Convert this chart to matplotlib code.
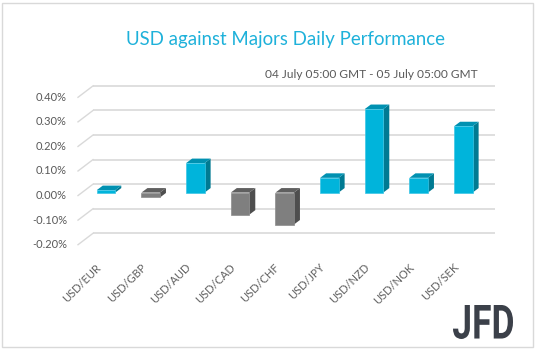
import matplotlib
matplotlib.use("Agg")
import matplotlib.pyplot as plt
from matplotlib.patches import Polygon, Rectangle, PathPatch
from matplotlib.textpath import TextPath
from matplotlib.font_manager import FontProperties
from matplotlib.transforms import Affine2D

categories = ["USD/EUR", "USD/GBP", "USD/AUD", "USD/CAD", "USD/CHF",
              "USD/JPY", "USD/NZD", "USD/NOK", "USD/SEK"]
values = [0.01, -0.02, 0.12, -0.09, -0.13, 0.06, 0.34, 0.06, 0.27]
yticks = [-0.20, -0.10, 0.00, 0.10, 0.20, 0.30, 0.40]
title = "USD against Majors Daily Performance"
subtitle = "04 July 05:00 GMT - 05 July 05:00 GMT"

plt.rcParams['font.family'] = ['Lato', 'DejaVu Sans']

W, H = 538, 351
fig = plt.figure(figsize=(W / 100, H / 100), dpi=100)
fig.patch.set_facecolor('white')

# front plane of the 3-D box in pixels
x0, x1 = 78, 480
ytop_px, ybot_px = 97.3, 244.7
ax = fig.add_axes([x0 / W, (H - ybot_px) / H, (x1 - x0) / W, (ybot_px - ytop_px) / H])
n = len(categories)
ax.set_xlim(-0.5, n - 0.5)
ax.set_ylim(yticks[0], yticks[-1])
ax.axis('off')

ppx = n / (x1 - x0)
ppy = (yticks[-1] - yticks[0]) / (ybot_px - ytop_px)

grid_c = '#D9D9D9'
bx, by = 15 * ppx, 11.4 * ppy
for v in yticks:
    ax.plot([-0.5 + bx, n - 0.5 + bx], [v + by, v + by], color=grid_c, lw=1.2,
            clip_on=False, zorder=1, solid_capstyle='butt')
    ax.plot([-0.5, -0.5 + bx], [v, v + by], color=grid_c, lw=1.0,
            clip_on=False, zorder=1)
    ax.text(-0.5 - 11 * ppx, v, f"{v:.2f}%", ha='right', va='center',
            fontsize=8, color='#595959')

# bars
off_x, off_y = 5.7 * ppx, 3.0 * ppy
bw = 18.5 * ppx
ddx, ddy = 6 * ppx, 4.5 * ppy
xs = [i + off_x for i in range(n)]
pos = dict(front='#00B4DB', top='#0091B1', side='#007A92', edge='#3CC6E6')
neg = dict(front='#7F7F7F', top='#5F5F5F', side='#4E4E4E', edge='#8C8C8C')
cols = [pos if v >= 0 else neg for v in values]
bars = ax.bar(xs, values, width=bw, bottom=off_y,
              color=[c['front'] for c in cols],
              edgecolor=[c['edge'] for c in cols], linewidth=0.5, zorder=3)
for b, v, c in zip(bars, values, cols):
    l = b.get_x()
    r = l + b.get_width()
    b0 = b.get_y()
    b1 = b0 + b.get_height()
    side = Polygon([(r, b0), (r, b1), (r + ddx, b1 + ddy), (r + ddx, b0 + ddy)],
                   closed=True, facecolor=c['side'], edgecolor='none', zorder=2)
    yt = max(b0, b1)
    top = Polygon([(l, yt), (r, yt), (r + ddx, yt + ddy), (l + ddx, yt + ddy)],
                  closed=True, facecolor=c['top'], edgecolor='none', zorder=2)
    for p in (side, top):
        p.set_clip_on(False)
        ax.add_patch(p)

# category labels
for i, cat in enumerate(categories):
    ax.text(i + 3 * ppx, yticks[0] - 17 * ppy, cat, rotation=45, ha='right',
            va='top', fontsize=8, color='#606060', clip_on=False)

# titles
fig.text(285 / W, 1 - 40 / H, title, ha='center', va='center', fontsize=13.4,
         color='#1EB1DA')
fig.text(478 / W, 1 - 75 / H, subtitle, ha='right', va='center', fontsize=8.6,
         color='#595959')

# border
fig.patches.append(Rectangle((2 / W, 1 - 347 / H), 531 / W, 344 / H,
                             transform=fig.transFigure, fill=False,
                             edgecolor='#D9D9D9', lw=1.0))

# logo
fp = FontProperties(family='Roboto', weight='bold')
tp = TextPath((0, 0), "JFD", size=100, prop=fp)
ext = tp.get_extents()
sx = (513 - 453) / ext.width
sy = (339 - 305) / ext.height
tr = Affine2D().translate(-ext.x0, -ext.y0).scale(sx, sy).translate(453, H - 339)
logo = PathPatch(tr.transform_path(tp), facecolor='#3B4049', edgecolor='none',
                 transform=None)
fig.patches.append(logo)

fig.savefig('out.png', dpi=100)
